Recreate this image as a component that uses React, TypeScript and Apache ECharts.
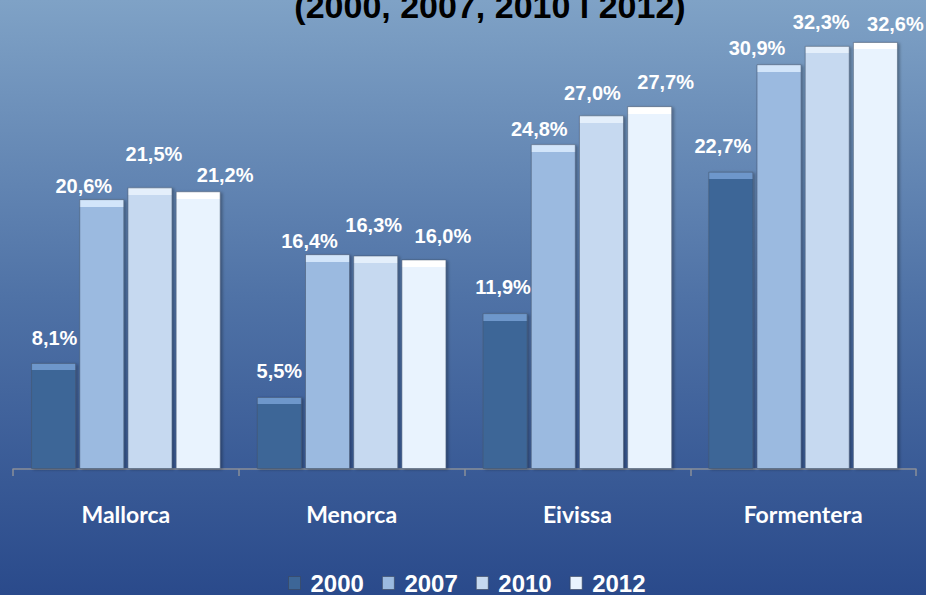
import React, { useEffect, useRef } from "react";
import * as echarts from "echarts";

const categories = ["Mallorca", "Menorca", "Eivissa", "Formentera"];
const years = ["2000", "2007", "2010", "2012"];
const values2000 = [8.1, 5.5, 11.9, 22.7];
const values2007 = [20.6, 16.4, 24.8, 30.9];
const values2010 = [21.5, 16.3, 27.0, 32.3];
const values2012 = [21.2, 16.0, 27.7, 32.6];
const titleText = "(2000, 2007, 2010 i 2012)";

const seriesValues = [values2000, values2007, values2010, values2012];

// styling: colours and hand-placed label nudges (as in the source chart)
const baseColors = ["#3d6697", "#9bbae0", "#c6d9f0", "#e9f3fe"];
const bevelColors = ["#6e97cb", "#d2e5fa", "#e4effb", "#ffffff"];
const labelOffsets = [
  [[1, -11], [0, -12], [-2, -12], [-8, -12]],
  [[-18, 1], [-18, 1], [-14, -1], [-22, -2]],
  [[4, -19], [-2, -16], [-9, -8], [-6, -10]],
  [[27, -2], [19, -9], [16, -10], [20, -4]],
];
const PX_PER_UNIT = 13.1;
const BEVEL_PX = 7;

function barItem(v: number, i: number, j: number) {
  const f = Math.min(0.5, BEVEL_PX / (v * PX_PER_UNIT));
  return {
    value: v,
    itemStyle: {
      color: {
        type: "linear",
        x: 0,
        y: 0,
        x2: 0,
        y2: 1,
        colorStops: [
          { offset: 0, color: bevelColors[i] },
          { offset: f, color: bevelColors[i] },
          { offset: f, color: baseColors[i] },
          { offset: 1, color: baseColors[i] },
        ],
      },
    },
    label: { offset: labelOffsets[i][j] },
  };
}

export default function App() {
  const ref = useRef<HTMLDivElement>(null);
  useEffect(() => {
    if (!ref.current) return;
    const chart = echarts.init(ref.current, undefined, { renderer: "svg" });
    chart.setOption({
      animation: false,
      backgroundColor: {
        type: "linear",
        x: 0,
        y: 0,
        x2: 0,
        y2: 1,
        colorStops: [
          { offset: 0, color: "#7fa2c6" },
          { offset: 0.5, color: "#4f72a6" },
          { offset: 1, color: "#2a4a8b" },
        ],
      },
      graphic: [
        {
          type: "text",
          x: 490,
          y: 6,
          style: {
            text: titleText,
            fill: "#000000",
            font: "bold 34px 'Liberation Sans', Arial, sans-serif",
            textAlign: "center",
            textVerticalAlign: "middle",
          },
        },
      ],
      grid: { left: 13, right: 10, top: 10.5, bottom: 126, outerBoundsMode: "none" },
      legend: {
        data: years.map((y, i) => ({
          name: y,
          itemStyle: { color: baseColors[i], borderColor: "rgba(60,70,90,0.6)", borderWidth: 1 },
        })),
        left: 288,
        top: 571,
        padding: 0,
        itemWidth: 12,
        itemHeight: 13,
        itemGap: 18,
        icon: "rect",
        textStyle: {
          color: "#ffffff",
          fontFamily: "'Liberation Sans', Arial, sans-serif",
          fontWeight: "bold",
          fontSize: 24,
          lineHeight: 20,
          padding: [0, 0, 0, 5],
        },
      },
      xAxis: {
        type: "category",
        data: categories,
        axisLine: { lineStyle: { color: "#8a8f98", width: 1.5 } },
        axisTick: { show: true, length: 7, lineStyle: { color: "#8a8f98", width: 1.5 } },
        axisLabel: {
          color: "#ffffff",
          fontFamily: "Lato, 'Open Sans', sans-serif",
          fontWeight: "bold",
          fontSize: 23,
          margin: 33,
        },
      },
      yAxis: {
        type: "value",
        min: 0,
        max: 35,
        show: false,
        splitLine: { show: false },
      },
      series: seriesValues.map((vals, i) => ({
        name: years[i],
        type: "bar",
        barGap: "7%",
        barCategoryGap: "16%",
        data: vals.map((v, j) => barItem(v, i, j)),
        itemStyle: {
          color: baseColors[i],
          borderColor: "rgba(70,85,110,0.55)",
          borderWidth: 1,
          shadowBlur: 3,
          shadowOffsetX: 2,
          shadowOffsetY: 1,
          shadowColor: "rgba(0,0,0,0.3)",
        },
        label: {
          show: true,
          position: "top",
          distance: 4,
          color: "#ffffff",
          fontFamily: "'Liberation Sans', Arial, sans-serif",
          fontWeight: "bold",
          fontSize: 20,
          formatter: (p: any) => p.value.toFixed(1).replace(".", ",") + "%",
        },
      })),
    });
    return () => chart.dispose();
  }, []);
  return (
    <div
      ref={ref}
      style={{ position: "fixed", left: 0, top: 0, width: 926, height: 595 }}
    />
  );
}
